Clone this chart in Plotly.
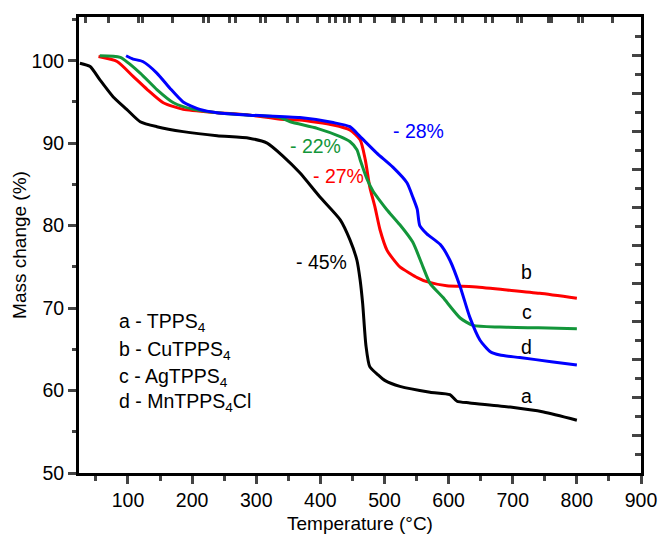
import plotly.graph_objects as go

# ---- data ----
t_a = [25, 41, 56, 77, 98, 119, 145, 186, 239, 289, 317, 342, 368, 399, 431, 446, 457, 462, 466, 471, 477, 490, 501, 524, 571, 602, 613, 633, 696, 748, 800]
m_a = [99.7, 99.3, 97.7, 95.6, 94.1, 92.6, 92.0, 91.4, 90.9, 90.6, 90.0, 88.4, 86.4, 83.5, 80.7, 78.3, 75.8, 73.4, 70.5, 65.5, 62.9, 61.9, 61.2, 60.5, 59.8, 59.5, 58.7, 58.5, 58.0, 57.4, 56.4]

t_b = [54, 83, 108, 130, 155, 186, 239, 290, 338, 368, 420, 446, 462, 470, 477, 485, 493, 504, 513, 524, 540, 551, 566, 597, 638, 691, 742, 800]
m_b = [100.5, 99.9, 98.1, 96.5, 94.9, 94.1, 93.7, 93.4, 92.9, 92.8, 92.2, 91.6, 90.4, 88.0, 84.7, 82.3, 79.5, 77.0, 76.0, 75.0, 74.2, 73.7, 73.2, 72.7, 72.6, 72.2, 71.8, 71.2]

t_c = [56, 88, 119, 145, 171, 202, 239, 290, 337, 353, 395, 431, 446, 457, 462, 473, 482, 493, 504, 524, 544, 560, 571, 591, 618, 638, 680, 740, 800]
m_c = [100.6, 100.4, 98.5, 96.5, 94.9, 94.1, 93.7, 93.4, 93.1, 92.6, 91.8, 90.8, 90.2, 89.2, 88.0, 85.6, 84.2, 83.0, 81.9, 80.1, 78.0, 75.0, 73.0, 71.3, 68.8, 67.9, 67.7, 67.6, 67.5]

t_d = [97, 108, 123, 145, 165, 186, 212, 239, 290, 368, 420, 446, 462, 488, 513, 535, 544, 551, 555, 566, 587, 602, 618, 633, 649, 665, 680, 711, 760, 800]
m_d = [100.6, 100.2, 99.9, 98.5, 96.7, 95.0, 94.1, 93.7, 93.4, 93.1, 92.5, 92.0, 90.8, 88.8, 87.1, 85.2, 83.5, 82.0, 80.0, 79.0, 77.7, 75.8, 72.6, 68.9, 66.1, 64.7, 64.3, 64.0, 63.5, 63.1]

series_names = ["a", "b", "c", "d"]
series_colors = ["#000000", "#ff0000", "#13963a", "#0000ff"]

# percentage labels
loss_text = ["- 45%", "- 27%", "- 22%", "- 28%"]
loss_t = [359, 385, 349, 510]
loss_m = [75.6, 86.0, 89.7, 91.5]

end_t = [722, 722, 722, 722]
end_m = [59.3, 74.4, 69.5, 65.3]

legend_lines = ["a - TPPS<sub>4</sub>", "b - CuTPPS<sub>4</sub>", "c - AgTPPS<sub>4</sub>", "d - MnTPPS<sub>4</sub>Cl"]
legend_t = [83, 83, 83, 83]
legend_m = [68.2, 64.9, 61.6, 58.5]

x_ticks = [100, 200, 300, 400, 500, 600, 700, 800, 900]
y_ticks = [50, 60, 70, 80, 90, 100]
top_ticks = [33, 70, 117, 123, 169, 217, 225, 259, 267, 306, 314, 348, 365, 395, 415, 423, 438, 446, 462, 485, 512, 516, 529, 558, 579, 610, 622, 657, 669, 708, 714, 755, 761, 802, 808, 855]

FONT = "Liberation Sans, Arial, Helvetica, sans-serif"

fig = go.Figure()
for tt, mm, col in zip([t_a, t_b, t_c, t_d], [m_a, m_b, m_c, m_d], series_colors):
    fig.add_trace(go.Scatter(x=tt, y=mm, mode="lines",
                             line=dict(color=col, width=3, shape="spline", smoothing=0.6),
                             showlegend=False, hoverinfo="skip"))

# dummy trace to activate secondary axes
fig.add_trace(go.Scatter(x=[None], y=[None], xaxis="x2", yaxis="y2", showlegend=False))

ann = []
for txt, tx, my, col in zip(loss_text, loss_t, loss_m, series_colors):
    ann.append(dict(x=tx, y=my, xref="x", yref="y", text=txt, showarrow=False,
                    xanchor="left", yanchor="middle", font=dict(size=19.5, color=col, family=FONT)))
for txt, tx, my in zip(series_names, end_t, end_m):
    ann.append(dict(x=tx, y=my, xref="x", yref="y", text=txt, showarrow=False,
                    xanchor="center", yanchor="middle", font=dict(size=19.5, color="black", family=FONT)))
for txt, tx, my in zip(legend_lines, legend_t, legend_m):
    ann.append(dict(x=tx, y=my, xref="x", yref="y", text=txt, showarrow=False,
                    xanchor="left", yanchor="middle", font=dict(size=19.5, color="black", family=FONT)))

xr = [23.6, 900]
yr = [50, 105.3]

fig.update_layout(
    width=658, height=534,
    margin=dict(l=79, r=17, t=17, b=61, autoexpand=False),
    plot_bgcolor="white", paper_bgcolor="white",
    font=dict(family=FONT, size=19, color="black"),
    annotations=ann,
    xaxis=dict(range=xr, tickvals=x_ticks, ticks="outside", ticklen=8, tickwidth=2.5,
               showgrid=False, zeroline=False, showline=True, linewidth=3, linecolor="black",
               minor=dict(dtick=50, tick0=0, ticks="outside", ticklen=5, tickwidth=2.5),
               title=dict(text="Temperature (°C)", font=dict(size=19), standoff=10),
               tickfont=dict(size=19.5), automargin=False),
    yaxis=dict(range=yr, tickvals=y_ticks, ticks="outside", ticklen=8, tickwidth=2.5,
               showgrid=False, zeroline=False, showline=True, linewidth=3, linecolor="black",
               minor=dict(dtick=5, tick0=0, ticks="outside", ticklen=4, tickwidth=2.5),
               title=dict(text="Mass change (%)", font=dict(size=19), standoff=0),
               tickfont=dict(size=19.5), automargin=False),
    xaxis2=dict(range=xr, overlaying="x", side="top", tickmode="array", tickvals=top_ticks,
                ticks="inside", ticklen=6, tickwidth=2.5, showticklabels=False, automargin=False,
                showgrid=False, zeroline=False, showline=True, linewidth=3, linecolor="black"),
    yaxis2=dict(range=[0, 24], overlaying="y", side="right", dtick=2, tick0=0,
                ticks="inside", ticklen=9, tickwidth=2.5, showticklabels=False, automargin=False,
                minor=dict(dtick=1, tick0=0, ticks="inside", ticklen=6, tickwidth=2.5),
                showgrid=False, zeroline=False, showline=True, linewidth=3, linecolor="black"),
)

fig.write_html("out.html", config={"displayModeBar": False},
               post_script="document.body.style.margin='0';document.body.style.overflow='hidden';")
